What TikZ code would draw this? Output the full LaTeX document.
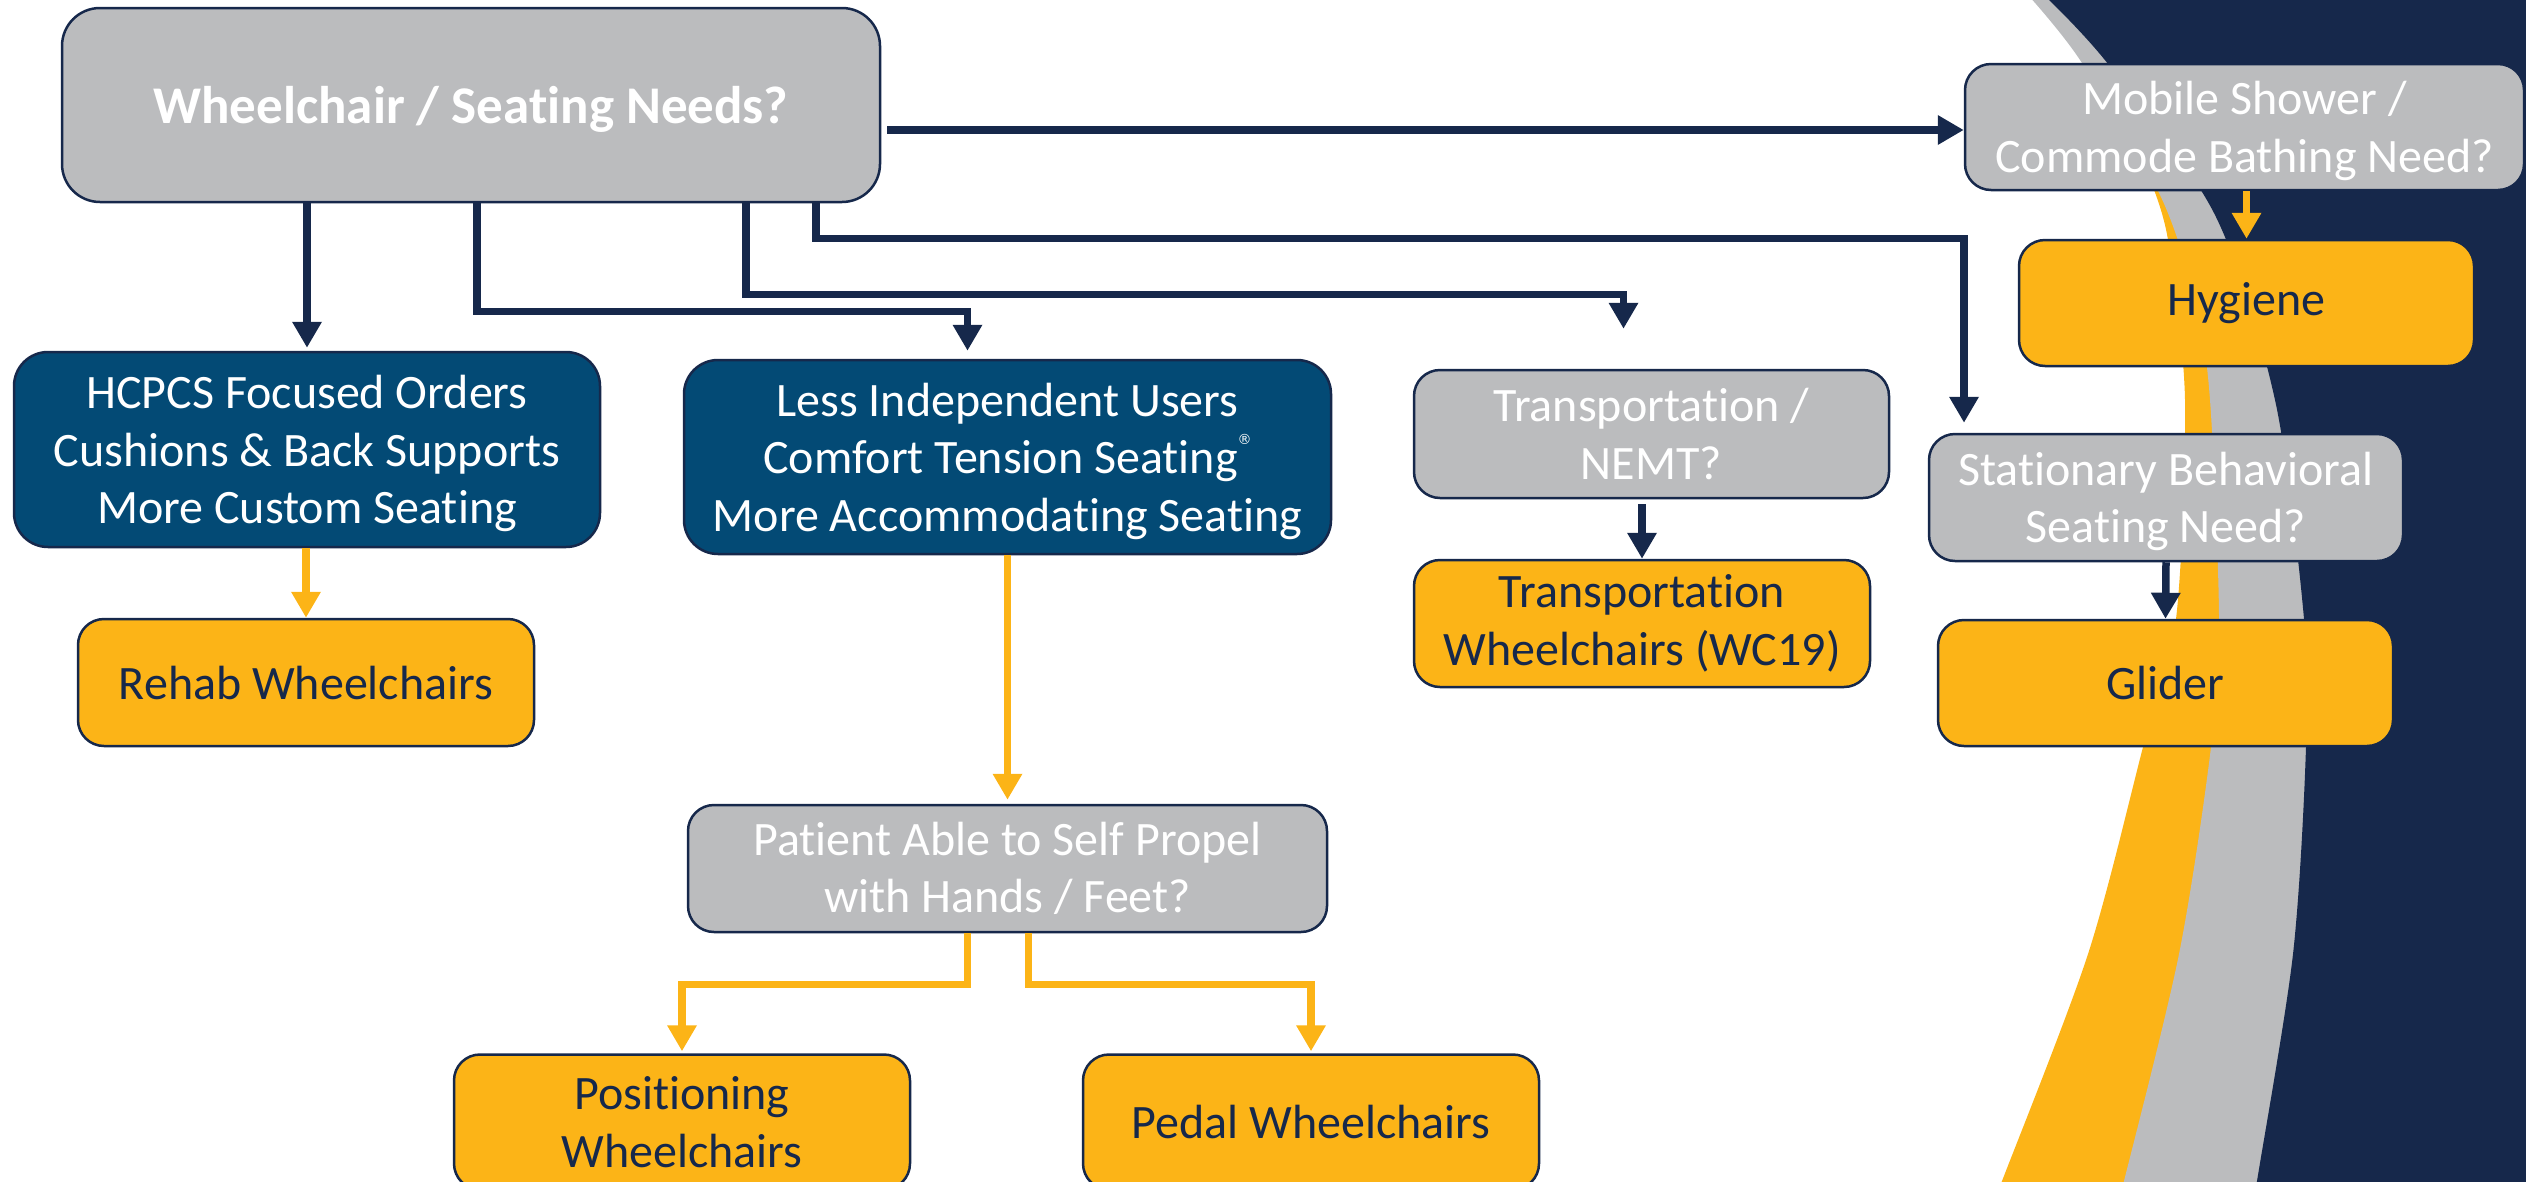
\documentclass[tikz,border=0pt]{standalone}
\usepackage{fontspec}
\setmainfont{Carlito}[Ligatures=NoCommon]
\newfontfamily\regfont{DejaVu Sans}
\usepackage{tikz}
\usetikzlibrary{arrows.meta}
\definecolor{navy}{HTML}{16284B}
\definecolor{boxgray}{HTML}{BBBCBE}
\definecolor{deepblue}{HTML}{034A75}
\definecolor{gold}{HTML}{FCB417}

\begin{document}
\begin{tikzpicture}[x=1pt,y=-1pt,
  box/.style={draw=navy,line width=2.5pt,rounded corners=26pt,align=center,inner sep=0pt,
    font=\fontsize{48}{57.5}\selectfont},
  graybox/.style={box,fill=boxgray,text=white},
  bluebox/.style={box,fill=deepblue,text=white},
  goldbox/.style={box,fill=gold,text=navy},
  navyarrow/.style={draw=navy,line width=7.5pt,-{Triangle[length=26pt,width=28pt]}},
  goldarrow/.style={draw=gold,line width=7.5pt,-{Triangle[length=26pt,width=28pt]}}]
\useasboundingbox (0,0) rectangle (2526,1181);
\clip (0,0) rectangle (2526,1181);

% Hintergrund rechts
\fill[gold] plot[smooth] coordinates {(2150,180) (2168,240) (2185,400) (2176,619) (2143,747) (2088,954) (2002,1181) (1994,1200)}
  -- (2526,1200) -- (2526,180) -- cycle;
\fill[boxgray] plot[smooth] coordinates {(2028,-5) (2080,60) (2160,195) (2195,300) (2210,400) (2219,619) (2211,747) (2179,954) (2124,1181) (2118,1200)}
  -- (2526,1200) -- (2526,-5) -- cycle;
\fill[navy] plot[smooth] coordinates {(2044,-5) (2108,64) (2215,215) (2275,400) (2304,619) (2306,747) (2293,954) (2257,1181) (2254,1200)}
  -- (2526,1200) -- (2526,-5) -- cycle;

% Knoten
\node[graybox,rounded corners=38pt,minimum width=818pt,minimum height=194pt,text depth=0pt,
  font=\fontsize{53}{60}\selectfont\bfseries] (root) at (471,105) {Wheelchair / Seating Needs?};
\node[bluebox,rounded corners=34pt,minimum width=586pt,minimum height=195pt,text depth=0pt] (hcpcs) at (307,449.5)
  {HCPCS Focused Orders\\Cushions \& Back Supports\\More Custom Seating};
\node[goldbox,minimum width=456pt,minimum height=127pt] (rehab) at (306,682.5) {Rehab Wheelchairs};
\node[bluebox,rounded corners=34pt,minimum width=647pt,minimum height=194pt,text depth=0pt] (lessind) at (1007.5,457)
  {Less Independent Users\\Comfort Tension Seating\raisebox{0.6em}{\regfont\fontsize{14}{14}\selectfont ®}\\More Accommodating Seating};
\node[graybox,minimum width=639pt,minimum height=127pt] (patient) at (1007.5,868.5)
  {Patient Able to Self Propel\\with Hands / Feet?};
\node[goldbox,minimum width=456pt,minimum height=135pt] (posit) at (682,1122) {Positioning\\Wheelchairs};
\node[goldbox,minimum width=456pt,minimum height=135pt] (pedal) at (1311,1122) {Pedal Wheelchairs};
\node[graybox,minimum width=475pt,minimum height=128pt] (transp) at (1651.5,434) {Transportation /\\NEMT?};
\node[goldbox,minimum width=456pt,minimum height=127pt] (twc) at (1642,623.5) {Transportation\\Wheelchairs (WC19)};
\node[graybox,minimum width=559pt,minimum height=126pt,text depth=0pt] (mobile) at (2244.5,127)
  {Mobile Shower /\\Commode Bathing Need?};
\node[goldbox,minimum width=455pt,minimum height=126pt] (hygiene) at (2246.5,303) {Hygiene};
\node[graybox,minimum width=474pt,minimum height=127pt,text depth=0pt] (station) at (2166,497.5)
  {Stationary Behavioral\\Seating Need?};
\node[goldbox,minimum width=455pt,minimum height=126pt] (glider) at (2165.5,683) {Glider};

% Verbindungen
\draw[navyarrow] (root.south -| hcpcs.north) -- ([yshift=3pt]hcpcs.north);
\draw[navyarrow] ([xshift=6pt]root.south) -- ++(0,108) -| ([xshift=-40pt,yshift=8pt]lessind.north);
\draw[navyarrow] ([xshift=275pt]root.south) -- ++(0,91) -| ([xshift=-28pt,yshift=40pt]transp.north);
\draw[navyarrow] ([xshift=345pt]root.south) -- ++(0,35) -| ([xshift=-202pt,yshift=10pt]station.north);
\draw[navyarrow] ([xshift=6pt,yshift=-25pt]root.east) -- ([yshift=-3pt]mobile.west);
\draw[navyarrow] ([yshift=-5pt]transp.south -| twc.north) -- (twc.north);
\draw[navyarrow] (station.south) -- (glider.north);
\draw[goldarrow] (mobile.south -| hygiene.north) -- (hygiene.north);
\draw[goldarrow] (hcpcs.south -| rehab.north) -- (rehab.north);
\draw[goldarrow] (lessind.south) -- ([yshift=4pt]patient.north);
\draw[goldarrow] ([xshift=-40pt]patient.south) -- ++(0,51) -| ([yshift=2pt]posit.north);
\draw[goldarrow] ([xshift=21pt]patient.south) -- ++(0,51) -| ([yshift=2pt]pedal.north);

\end{tikzpicture}
\end{document}
